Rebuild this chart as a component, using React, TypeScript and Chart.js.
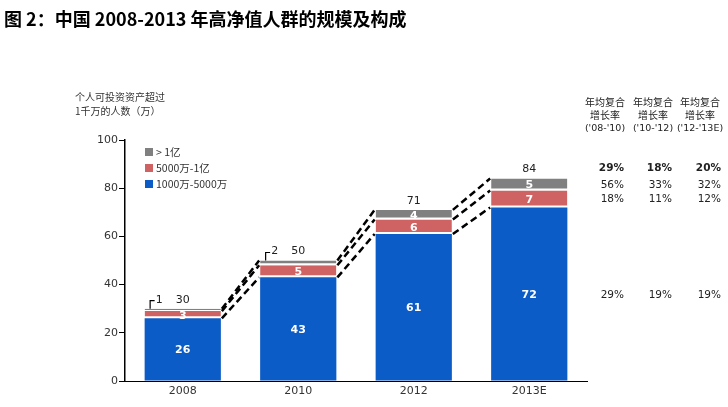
import React, { useEffect, useRef } from "react";
import { Chart, registerables } from "chart.js";

Chart.register(...registerables);

const categories = ["2008", "2010", "2012", "2013E"];
const lowTier = [26, 43, 61, 72]; // 1000万-5000万
const midTier = [3, 5, 6, 7]; // 5000万-1亿
const topTier = [1, 2, 4, 5]; // >1亿
const totals = [30, 50, 71, 84];
const seriesNames = ["1000万-5000万", "5000万-1亿", "> 1亿"];
const yTicks = [0, 20, 40, 60, 80, 100];

const cagrHeaders = ["('08-'10)", "('10-'12)", "('12-'13E)"];
const cagrTotal = ["29%", "18%", "20%"];
const cagrTop = ["56%", "33%", "32%"];
const cagrMid = ["18%", "11%", "12%"];
const cagrLow = ["29%", "19%", "19%"];

const BLUE = "#0b5cc6";
const RED = "#cf6262";
const GRAY = "#808080";
const NUM_FONT = "'DejaVu Sans', Verdana, sans-serif";
const CJK_FONT = "'Noto Sans CJK SC', 'DejaVu Sans', sans-serif";

const overlayPlugin = {
  id: "overlay",
  afterDatasetsDraw(chart: any) {
    const ctx = chart.ctx;
    const y = chart.scales.y;
    const metas = [0, 1, 2].map((d) => chart.getDatasetMeta(d));
    ctx.save();
    // dashed connectors
    ctx.strokeStyle = "#000";
    ctx.lineWidth = 2.5;
    ctx.setLineDash([7, 4]);
    for (let i = 0; i < categories.length - 1; i++) {
      for (let d = 0; d < 3; d++) {
        const a = metas[d].data[i];
        const b = metas[d].data[i + 1];
        ctx.beginPath();
        ctx.moveTo(a.x + a.width / 2 + 1, a.y);
        ctx.lineTo(b.x - b.width / 2 - 1, b.y);
        ctx.stroke();
      }
    }
    ctx.setLineDash([]);
    // segment labels
    const values = [lowTier, midTier, topTier];
    ctx.textAlign = "center";
    ctx.textBaseline = "middle";
    ctx.font = `bold 11px ${NUM_FONT}`;
    ctx.fillStyle = "#fff";
    for (let d = 0; d < 3; d++) {
      for (let i = 0; i < categories.length; i++) {
        const v = values[d][i];
        if (v < 3) continue;
        const el = metas[d].data[i];
        ctx.fillText(String(v), el.x, (el.y + el.base) / 2 + 1);
      }
    }
    // totals
    ctx.font = `11px ${NUM_FONT}`;
    ctx.fillStyle = "#222";
    for (let i = 0; i < categories.length; i++) {
      const el = metas[2].data[i];
      ctx.fillText(String(totals[i]), el.x, y.getPixelForValue(totals[i]) - 9);
    }
    // small external labels with brackets
    ctx.lineWidth = 1.2;
    ctx.strokeStyle = "#000";
    ctx.textAlign = "left";
    for (let i = 0; i < categories.length; i++) {
      const v = topTier[i];
      if (v >= 3) continue;
      const el = metas[2].data[i];
      const left = el.x - el.width / 2;
      const top = el.y;
      ctx.beginPath();
      ctx.moveTo(left + 5.5, top);
      ctx.lineTo(left + 5.5, top - 8);
      ctx.lineTo(left + 10, top - 8);
      ctx.stroke();
      ctx.fillText(String(v), left + 11, top - 9);
    }
    ctx.restore();
  },
};

export default function App() {
  const ref = useRef<HTMLCanvasElement>(null);

  useEffect(() => {
    const canvas = ref.current;
    if (!canvas) return;
    const common = {
      borderColor: "#ffffff",
      borderSkipped: false as any,
      barPercentage: 0.66,
      categoryPercentage: 1,
    };
    const chart = new Chart(canvas, {
      type: "bar",
      data: {
        labels: categories,
        datasets: [
          { label: seriesNames[0], data: lowTier, backgroundColor: BLUE, borderWidth: 0, ...common },
          {
            label: seriesNames[1],
            data: midTier,
            backgroundColor: RED,
            ...common,
            borderWidth: { top: 0, left: 0, right: 0, bottom: 2 },
          },
          {
            label: seriesNames[2],
            data: topTier,
            backgroundColor: GRAY,
            ...common,
            borderWidth: { top: 0, left: 0, right: 0, bottom: 2 },
          },
        ],
      },
      options: {
        animation: false,
        responsive: false,
        devicePixelRatio: 1,
        layout: { padding: { left: 0, top: 140, right: 141, bottom: 0 } },
        plugins: { legend: { display: false }, tooltip: { enabled: false }, title: { display: false } },
        scales: {
          x: {
            stacked: true,
            grid: { display: false, drawTicks: false },
            border: { display: true, color: "#000", width: 1 },
            ticks: { color: "#333", font: { size: 11, family: NUM_FONT }, padding: 4 },
            afterFit: (s: any) => {
              s.height = 26;
            },
          },
          y: {
            stacked: true,
            min: 0,
            max: 100,
            afterBuildTicks: (s: any) => {
              s.ticks = yTicks.map((v) => ({ value: v }));
            },
            grid: { drawOnChartArea: false, drawTicks: true, tickLength: 6, color: "#000" },
            border: { display: true, color: "#000", width: 1.5 },
            ticks: { color: "#333", font: { size: 11, family: NUM_FONT }, padding: 1 },
            afterFit: (s: any) => {
              s.width = 125;
            },
          },
        },
      },
      plugins: [overlayPlugin],
    });
    return () => chart.destroy();
  }, []);

  const legendItems = [
    { color: GRAY, text: seriesNames[2], top: 147 },
    { color: RED, text: seriesNames[1], top: 163 },
    { color: BLUE, text: seriesNames[0], top: 179 },
  ];
  const colRight = [624, 672, 721];
  const colCenter = [605, 653, 700];
  const rows = [
    { vals: cagrTotal, y: 167, bold: true },
    { vals: cagrTop, y: 184, bold: false },
    { vals: cagrMid, y: 198, bold: false },
    { vals: cagrLow, y: 294, bold: false },
  ];

  return (
    <div style={{ position: "fixed", left: 0, top: 0, width: 728, height: 407, background: "#fff", overflow: "hidden" }}>
      <canvas ref={ref} width={728} height={407} style={{ position: "absolute", left: 0, top: 0, width: 728, height: 407 }} />
      <div
        style={{
          position: "absolute",
          left: 4,
          top: 6,
          fontFamily: CJK_FONT,
          fontWeight: "bold",
          fontSize: 18,
          lineHeight: "24px",
          color: "#000",
          whiteSpace: "nowrap",
        }}
      >
        图 2：中国 2008-2013 年高净值人群的规模及构成
      </div>
      <div
        style={{
          position: "absolute",
          left: 75,
          top: 90,
          fontFamily: CJK_FONT,
          fontSize: 10,
          lineHeight: "14px",
          color: "#333",
          whiteSpace: "nowrap",
        }}
      >
        <div>个人可投资资产超过</div>
        <div>1千万的人数（万）</div>
      </div>
      {legendItems.map((it) => (
        <div key={it.text} style={{ position: "absolute", left: 145, top: it.top, height: 10, display: "flex", alignItems: "center", whiteSpace: "nowrap" }}>
          <div style={{ width: 8, height: 8, background: it.color, marginRight: 3 }} />
          <span style={{ fontFamily: CJK_FONT, fontSize: 10.5, color: "#333", lineHeight: "10px" }}>{it.text}</span>
        </div>
      ))}
      {cagrHeaders.map((h, i) => (
        <div
          key={h}
          style={{
            position: "absolute",
            left: colCenter[i] - 30,
            width: 60,
            top: 95,
            textAlign: "center",
            fontFamily: CJK_FONT,
            fontSize: 10,
            lineHeight: "13px",
            color: "#222",
            whiteSpace: "nowrap",
          }}
        >
          <div>年均复合</div>
          <div>增长率</div>
          <div style={{ fontFamily: NUM_FONT, fontSize: 9.5 }}>{h}</div>
        </div>
      ))}
      {rows.map((r, ri) =>
        r.vals.map((v, i) => (
          <div
            key={`${ri}-${i}`}
            style={{
              position: "absolute",
              left: colRight[i] - 50,
              width: 50,
              top: r.y - 7,
              textAlign: "right",
              fontFamily: NUM_FONT,
              fontSize: 10.5,
              fontWeight: r.bold ? "bold" : "normal",
              lineHeight: "14px",
              color: "#222",
            }}
          >
            {v}
          </div>
        ))
      )}
    </div>
  );
}
